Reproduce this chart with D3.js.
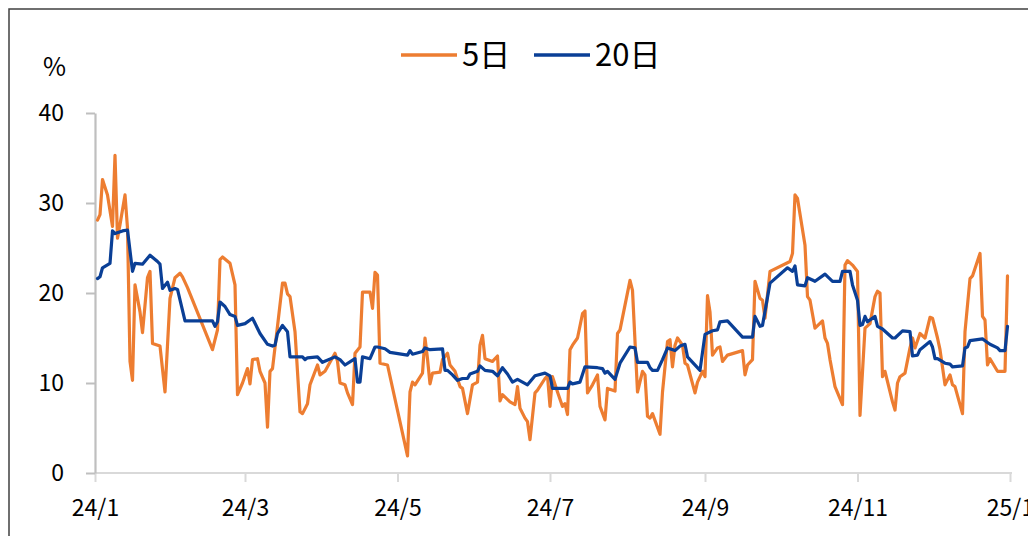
<!DOCTYPE html>
<html>
<head>
<meta charset="utf-8">
<script src="https://cdn.jsdelivr.net/npm/d3@7"></script>
<style>
  html, body { margin: 0; padding: 0; background: #fff; }
  svg { display: block; }
  text { font-family: "Noto Sans CJK SC", "Noto Sans", sans-serif; fill: #000; }
</style>
</head>
<body>
<svg id="chart" width="1028" height="536"></svg>
<script>
// ---- data ----
const seriesNames = ["5日", "20日"];
const seriesColors = ["#ED7D31", "#0A3F96"];
const yUnit = "%";
const yTicks = [0, 10, 20, 30, 40];
const xDomain = ["2024-01-01", "2025-01-01"];

const series5 = [
["2024-01-02",28.1],["2024-01-03",28.7],["2024-01-04",32.6],["2024-01-06",30.9],["2024-01-08",27.4],
["2024-01-09",35.3],["2024-01-10",26.1],["2024-01-11",27.6],["2024-01-13",30.9],["2024-01-14",27.2],
["2024-01-15",12.4],["2024-01-16",10.3],["2024-01-17",20.9],["2024-01-19",17.9],["2024-01-20",15.6],
["2024-01-22",21.7],["2024-01-23",22.4],["2024-01-24",14.4],["2024-01-27",14.1],["2024-01-29",9.0],
["2024-01-31",19.4],["2024-02-02",21.7],["2024-02-04",22.2],["2024-02-05",21.8],["2024-02-07",20.6],
["2024-02-17",13.7],["2024-02-19",15.9],["2024-02-20",23.7],["2024-02-21",24.0],["2024-02-24",23.3],
["2024-02-26",20.9],["2024-02-27",8.7],["2024-02-29",10.0],["2024-03-02",11.6],["2024-03-03",9.9],
["2024-03-04",12.6],["2024-03-06",12.7],["2024-03-07",11.3],["2024-03-09",10.0],["2024-03-10",5.1],
["2024-03-11",11.3],["2024-03-12",11.6],["2024-03-14",16.3],["2024-03-16",21.1],["2024-03-17",21.1],
["2024-03-18",19.9],["2024-03-19",19.6],["2024-03-21",15.7],["2024-03-23",6.8],["2024-03-24",6.6],
["2024-03-26",7.7],["2024-03-27",9.8],["2024-03-30",12.0],["2024-03-31",10.9],["2024-04-02",11.3],
["2024-04-06",13.3],["2024-04-07",12.4],["2024-04-08",10.0],["2024-04-10",9.8],["2024-04-11",8.9],
["2024-04-13",7.6],["2024-04-14",13.3],["2024-04-16",14.0],["2024-04-17",20.1],["2024-04-20",20.1],
["2024-04-21",18.3],["2024-04-22",22.3],["2024-04-23",22.0],["2024-04-24",12.2],["2024-04-27",12.0],
["2024-05-05",1.9],["2024-05-06",9.0],["2024-05-07",10.1],["2024-05-08",9.8],["2024-05-11",11.1],
["2024-05-12",15.0],["2024-05-13",12.7],["2024-05-14",9.9],["2024-05-15",11.1],["2024-05-18",11.2],
["2024-05-19",12.6],["2024-05-21",13.3],["2024-05-22",12.0],["2024-05-24",11.3],["2024-05-26",9.6],
["2024-05-27",9.4],["2024-05-29",6.6],["2024-05-31",9.8],["2024-06-02",10.1],["2024-06-03",14.2],
["2024-06-04",15.3],["2024-06-05",12.7],["2024-06-08",12.4],["2024-06-10",13.0],["2024-06-11",8.0],
["2024-06-12",8.7],["2024-06-15",7.9],["2024-06-17",7.6],["2024-06-18",9.6],["2024-06-19",7.2],
["2024-06-21",6.1],["2024-06-22",5.7],["2024-06-23",3.7],["2024-06-25",8.9],["2024-06-26",9.2],
["2024-06-29",10.5],["2024-06-30",10.8],["2024-07-01",7.4],["2024-07-02",10.7],["2024-07-04",9.0],
["2024-07-06",7.4],["2024-07-07",7.7],["2024-07-08",6.5],["2024-07-09",13.7],["2024-07-10",14.2],
["2024-07-12",15.0],["2024-07-14",17.7],["2024-07-15",18.0],["2024-07-16",8.9],["2024-07-18",9.8],
["2024-07-20",10.9],["2024-07-21",7.4],["2024-07-23",5.9],["2024-07-24",9.4],["2024-07-27",9.1],
["2024-07-28",15.5],["2024-07-29",15.9],["2024-08-02",21.4],["2024-08-03",20.3],["2024-08-05",9.0],
["2024-08-07",11.3],["2024-08-08",10.9],["2024-08-09",6.3],["2024-08-10",6.1],["2024-08-11",6.6],
["2024-08-14",4.3],["2024-08-15",9.0],["2024-08-17",14.6],["2024-08-18",14.8],["2024-08-19",11.8],
["2024-08-20",14.2],["2024-08-21",15.0],["2024-08-23",14.2],["2024-08-24",12.2],["2024-08-25",12.0],
["2024-08-28",8.9],["2024-08-29",10.1],["2024-08-31",11.3],["2024-09-01",10.7],["2024-09-02",19.7],
["2024-09-03",17.9],["2024-09-04",13.1],["2024-09-06",13.9],["2024-09-07",14.0],["2024-09-08",12.4],
["2024-09-10",13.1],["2024-09-16",13.6],["2024-09-17",10.9],["2024-09-18",12.0],["2024-09-20",12.6],
["2024-09-21",21.3],["2024-09-23",19.4],["2024-09-24",19.2],["2024-09-25",17.2],["2024-09-27",22.4],
["2024-10-05",23.5],["2024-10-06",24.4],["2024-10-07",30.9],["2024-10-08",30.5],["2024-10-11",25.3],
["2024-10-12",19.6],["2024-10-13",19.2],["2024-10-15",16.1],["2024-10-18",16.9],["2024-10-19",15.0],
["2024-10-20",14.4],["2024-10-21",12.6],["2024-10-23",9.6],["2024-10-26",7.6],["2024-10-27",23.1],
["2024-10-28",23.6],["2024-10-30",23.1],["2024-11-01",22.4],["2024-11-02",6.4],["2024-11-04",16.1],
["2024-11-06",16.6],["2024-11-08",19.6],["2024-11-09",20.2],["2024-11-10",20.0],["2024-11-11",10.7],
["2024-11-12",11.3],["2024-11-15",7.9],["2024-11-16",7.0],["2024-11-17",10.0],["2024-11-18",10.7],
["2024-11-20",11.1],["2024-11-22",13.9],["2024-11-23",15.0],["2024-11-24",13.9],["2024-11-26",15.5],
["2024-11-28",15.0],["2024-11-30",17.3],["2024-12-01",17.2],["2024-12-03",15.0],["2024-12-04",13.7],
["2024-12-06",9.8],["2024-12-08",10.9],["2024-12-09",9.8],["2024-12-10",9.6],["2024-12-13",6.6],
["2024-12-14",15.7],["2024-12-16",21.6],["2024-12-17",21.9],["2024-12-20",24.4],["2024-12-21",17.4],
["2024-12-22",17.0],["2024-12-23",12.0],["2024-12-24",12.7],["2024-12-27",11.3],["2024-12-30",11.3],
["2024-12-31",21.9]
];

const series20 = [
["2024-01-02",21.6],["2024-01-03",21.8],["2024-01-04",22.8],["2024-01-07",23.3],["2024-01-08",26.9],
["2024-01-09",26.6],["2024-01-12",26.9],["2024-01-14",27.0],["2024-01-16",22.4],["2024-01-17",23.3],
["2024-01-20",23.2],["2024-01-23",24.2],["2024-01-26",23.5],["2024-01-27",23.2],["2024-01-28",20.5],
["2024-01-30",21.2],["2024-01-31",20.3],["2024-02-02",20.5],["2024-02-03",20.4],["2024-02-06",16.9],
["2024-02-17",16.9],["2024-02-18",16.3],["2024-02-19",16.8],["2024-02-20",19.0],["2024-02-22",18.5],
["2024-02-24",17.6],["2024-02-26",17.4],["2024-02-27",16.4],["2024-03-01",16.6],["2024-03-04",17.2],
["2024-03-07",15.5],["2024-03-10",14.3],["2024-03-12",14.1],["2024-03-13",14.2],["2024-03-14",15.5],
["2024-03-16",16.4],["2024-03-18",15.7],["2024-03-19",12.9],["2024-03-24",12.9],["2024-03-25",12.6],
["2024-03-26",12.8],["2024-03-30",12.9],["2024-04-01",12.3],["2024-04-06",12.9],["2024-04-08",12.6],
["2024-04-10",12.0],["2024-04-14",12.7],["2024-04-15",10.1],["2024-04-16",10.1],["2024-04-17",12.9],
["2024-04-20",12.7],["2024-04-22",14.0],["2024-04-23",14.0],["2024-04-26",13.8],["2024-04-28",13.4],
["2024-05-05",13.1],["2024-05-06",13.6],["2024-05-07",13.2],["2024-05-11",13.5],["2024-05-12",13.9],
["2024-05-14",13.7],["2024-05-19",13.8],["2024-05-20",11.4],["2024-05-21",11.4],["2024-05-23",10.9],
["2024-05-25",10.3],["2024-05-27",10.5],["2024-05-29",10.5],["2024-05-30",11.0],["2024-06-02",11.3],
["2024-06-03",11.9],["2024-06-05",11.4],["2024-06-08",11.3],["2024-06-10",10.8],["2024-06-12",11.7],
["2024-06-14",11.0],["2024-06-16",10.1],["2024-06-18",10.4],["2024-06-22",9.8],["2024-06-25",10.8],
["2024-06-29",11.1],["2024-07-01",10.8],["2024-07-02",9.4],["2024-07-08",9.4],["2024-07-09",10.1],
["2024-07-10",9.9],["2024-07-13",10.1],["2024-07-15",11.8],["2024-07-20",11.7],["2024-07-22",11.6],
["2024-07-23",11.1],["2024-07-24",11.3],["2024-07-27",10.4],["2024-07-29",12.2],["2024-08-02",14.0],
["2024-08-04",13.9],["2024-08-05",12.3],["2024-08-09",12.3],["2024-08-10",11.7],["2024-08-11",11.4],
["2024-08-13",11.4],["2024-08-15",12.6],["2024-08-17",13.9],["2024-08-20",13.6],["2024-08-22",14.1],
["2024-08-24",14.3],["2024-08-25",12.9],["2024-08-30",11.4],["2024-09-01",15.4],["2024-09-04",15.8],
["2024-09-06",15.9],["2024-09-07",16.8],["2024-09-10",16.9],["2024-09-16",15.1],["2024-09-20",15.1],
["2024-09-21",17.4],["2024-09-23",16.3],["2024-09-24",16.4],["2024-09-27",21.1],["2024-10-04",22.8],
["2024-10-06",22.4],["2024-10-07",23.0],["2024-10-08",20.9],["2024-10-11",20.8],["2024-10-12",21.7],
["2024-10-15",21.3],["2024-10-19",22.1],["2024-10-22",21.3],["2024-10-25",21.3],["2024-10-26",22.4],
["2024-10-29",22.4],["2024-10-30",20.9],["2024-11-01",19.2],["2024-11-02",16.4],["2024-11-03",16.5],
["2024-11-04",17.4],["2024-11-05",16.8],["2024-11-08",17.4],["2024-11-09",16.3],["2024-11-11",16.0],
["2024-11-15",15.0],["2024-11-16",15.0],["2024-11-19",15.8],["2024-11-22",15.7],["2024-11-23",13.0],
["2024-11-25",13.1],["2024-11-26",13.7],["2024-11-30",14.6],["2024-12-01",14.0],["2024-12-02",12.7],
["2024-12-03",12.7],["2024-12-06",12.2],["2024-12-08",12.1],["2024-12-09",11.8],["2024-12-13",11.9],
["2024-12-14",13.9],["2024-12-15",14.0],["2024-12-16",14.7],["2024-12-21",14.9],["2024-12-22",14.7],
["2024-12-24",14.3],["2024-12-27",13.9],["2024-12-28",13.6],["2024-12-30",13.6],["2024-12-31",16.3]
];

// ---- drawing ----
const parse = d3.timeParse("%Y-%m-%d");
const svg = d3.select("#chart");

// outer frame
svg.append("rect")
  .attr("x", 9).attr("y", 9).attr("width", 1040).attr("height", 560)
  .attr("fill", "none").attr("stroke", "#404040").attr("stroke-width", 1.5);

const x = d3.scaleTime()
  .domain(xDomain.map(parse))
  .range([95, 1010]);
const y = d3.scaleLinear()
  .domain([0, 40])
  .range([473, 113]);

// x axis
const xTickVals = d3.timeMonth.every(2).range(parse(xDomain[0]), d3.timeDay.offset(parse(xDomain[1]), 1));
const xAxis = d3.axisBottom(x)
  .tickValues(xTickVals)
  .tickFormat(d3.timeFormat("%y/%-m"))
  .tickSizeInner(9)
  .tickSizeOuter(0)
  .tickPadding(12);
const gx = svg.append("g").attr("transform", "translate(0,473)").call(xAxis);
gx.select(".domain").attr("stroke", "#d9d9d9").attr("stroke-width", 2.2)
  .attr("d", `M${x.range()[0]},0H${x.range()[1] + 2}`);
gx.selectAll(".tick line").attr("stroke", "#d9d9d9").attr("stroke-width", 2);
gx.selectAll(".tick text").attr("font-size", 23).attr("font-family", "'Noto Sans CJK SC', sans-serif")
  .attr("fill", "#000").attr("y", 43).attr("dy", "0");

// y axis
const yAxis = d3.axisLeft(y)
  .tickValues(yTicks)
  .tickSizeInner(9)
  .tickSizeOuter(0)
  .tickPadding(22);
const gy = svg.append("g").attr("transform", "translate(95,0)").call(yAxis);
gy.select(".domain").attr("stroke", "#bfbfbf").attr("stroke-width", 2.2);
gy.selectAll(".tick line").attr("stroke", "#bfbfbf").attr("stroke-width", 2);
gy.selectAll(".tick text").attr("font-size", 23).attr("font-family", "'Noto Sans CJK SC', sans-serif")
  .attr("fill", "#000");

// unit label
svg.append("text").attr("x", 43).attr("y", 76).attr("font-size", 25).text(yUnit);

// lines
const line = d3.line()
  .x(d => x(parse(d[0])))
  .y(d => y(d[1]))
  .curve(d3.curveLinear);

[series5, series20].forEach((s, i) => {
  svg.append("path")
    .datum(s)
    .attr("d", line)
    .attr("fill", "none")
    .attr("stroke", seriesColors[i])
    .attr("stroke-width", 3.2)
    .attr("stroke-linejoin", "round")
    .attr("stroke-linecap", "round");
});

// legend
const legendX = [401, 534];
seriesNames.forEach((name, i) => {
  const g = svg.append("g").attr("transform", `translate(${legendX[i]},55)`);
  g.append("line").attr("x1", 0).attr("x2", 56).attr("y1", 0).attr("y2", 0)
    .attr("stroke", seriesColors[i]).attr("stroke-width", 3.5);
  g.append("text").attr("x", 61).attr("y", 0).attr("dy", "0.36em")
    .attr("font-size", 31).text(name);
});
</script>
</body>
</html>
